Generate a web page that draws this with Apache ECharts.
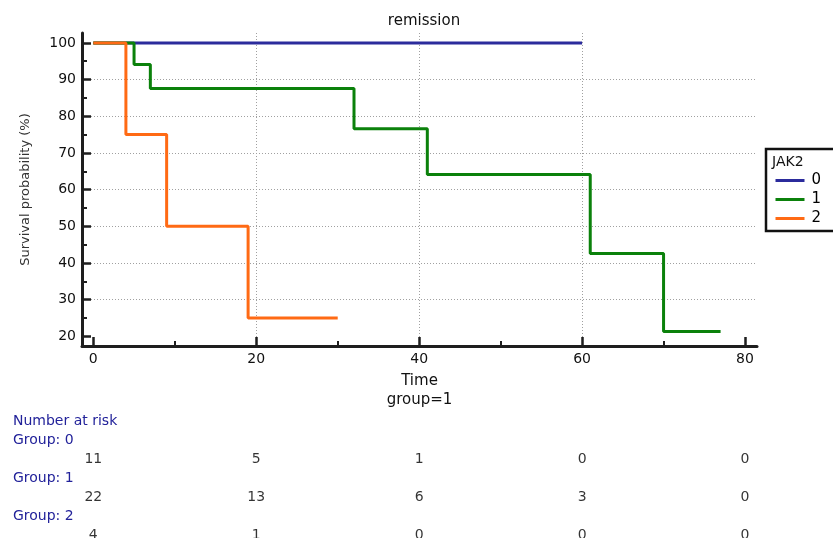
<!DOCTYPE html>
<html>
<head>
<meta charset="utf-8">
<script src="https://cdn.jsdelivr.net/npm/echarts@6/dist/echarts.min.js"></script>
<style>
  html, body { margin: 0; padding: 0; background: #fff; }
  #chart { width: 833px; height: 538px; }
</style>
</head>
<body>
<div id="chart"></div>
<script>
// Kaplan-Meier estimates for remission by JAK2 group
const group0Time = [0, 60];
const group0Surv = [100, 100];
const group1Time = [0, 5, 7, 32, 41, 61, 70, 77];
const group1Surv = [100, 94.1, 87.6, 76.6, 64.1, 42.6, 21.3, 21.3];
const group2Time = [0, 4, 9, 19, 30];
const group2Surv = [100, 75, 50, 25, 25];

const groupNames = ['0', '1', '2'];
const groupColors = ['#2b2b9c', '#0b810b', '#ff6a14'];

// Axis ticks
const xMajorTicks = [0, 20, 40, 60, 80];
const xMinorTicks = [10, 30, 50, 70];
const yMajorTicks = [20, 30, 40, 50, 60, 70, 80, 90, 100];
const yMinorTicks = [25, 35, 45, 55, 65, 75, 85, 95];

// Number at risk table
const riskTimes = [0, 20, 40, 60, 80];
const risk0 = [11, 5, 1, 0, 0];
const risk1 = [22, 13, 6, 3, 0];
const risk2 = [4, 1, 0, 0, 0];
const riskRows = ['Number at risk', 'Group: 0', 'r0', 'Group: 1', 'r1', 'Group: 2', 'r2'];

const FONT = '"DejaVu Sans", Verdana, sans-serif';

const X_MIN = -1.39, X_MAX = 81.47;
const Y_MIN = 17.35, Y_MAX = 102.7;

function zip(t, s) { return t.map((v, i) => [v, s[i]]); }

function kmSeries(i, t, s) {
  return {
    name: groupNames[i],
    type: 'line',
    step: 'end',
    xAxisIndex: 0,
    yAxisIndex: 0,
    symbol: 'none',
    data: zip(t, s),
    lineStyle: { color: groupColors[i], width: 3 },
    itemStyle: { color: groupColors[i] },
    emphasis: { disabled: true },
    z: 3 + i
  };
}

const riskData = [];
[risk0, risk1, risk2].forEach((row, r) => {
  row.forEach((v, k) => riskData.push([riskTimes[k], 'r' + r, v]));
});

const axisLineStyle = { color: '#1e1e1e', width: 3 };
const gridLine = { show: true, showMinLine: false, showMaxLine: false,
  lineStyle: { color: '#a0a0a0', type: [1, 2], width: 1 } };

const chart = echarts.init(document.getElementById('chart'));
chart.setOption({
  animation: false,
  backgroundColor: '#fff',
  title: {
    text: 'remission',
    left: 419, top: 9, textAlign: 'center',
    textStyle: { fontFamily: FONT, fontSize: 15, fontWeight: 'normal', color: '#111' }
  },
  graphic: [
    { type: 'rect', shape: { x: 766, y: 149, width: 90, height: 82 },
      style: { fill: '#fff', stroke: '#111', lineWidth: 2.5 }, z: 1 },
    { type: 'text', x: 772, y: 155, z: 2,
      style: { text: 'JAK2', fontFamily: FONT, fontSize: 14, fill: '#111' } }
  ],
  legend: {
    orient: 'vertical',
    left: 774, top: 173,
    padding: 0,
    itemWidth: 29, itemHeight: 15, itemGap: 4,
    data: groupNames,
    itemStyle: { opacity: 0 },
    lineStyle: { width: 3 },
    textStyle: { fontFamily: FONT, fontSize: 15, color: '#000', padding: [0, 0, 0, 2] },
    z: 5
  },
  grid: [
    { left: 82, right: 76, top: 33, bottom: 192, outerBoundsMode: 'none' },
    { left: 82, right: 76, top: 411.5, height: 133, outerBoundsMode: 'none' }
  ],
  xAxis: [
    {
      type: 'value', gridIndex: 0, min: X_MIN, max: X_MAX, splitNumber: 5,
      name: 'Time\ngroup=1', nameLocation: 'middle', nameGap: 26,
      nameTextStyle: { fontFamily: FONT, fontSize: 15, color: '#111', lineHeight: 19 },
      axisLine: { show: true, onZero: false, lineStyle: axisLineStyle },
      axisTick: { show: true, inside: true, length: 9, customValues: xMajorTicks,
        lineStyle: { color: '#1e1e1e', width: 2.5 } },
      axisLabel: { customValues: xMajorTicks, margin: 6, fontFamily: FONT, fontSize: 14, color: '#111' },
      splitLine: gridLine
    },
    {
      type: 'value', gridIndex: 0, min: X_MIN, max: X_MAX, position: 'bottom',
      axisLine: { show: false, onZero: false },
      axisTick: { show: true, inside: true, length: 5, customValues: xMinorTicks,
        lineStyle: { color: '#1e1e1e', width: 2 } },
      axisLabel: { show: false },
      splitLine: { show: false }
    },
    {
      type: 'value', gridIndex: 1, min: X_MIN, max: X_MAX, show: false
    }
  ],
  yAxis: [
    {
      type: 'value', gridIndex: 0, min: Y_MIN, max: Y_MAX, splitNumber: 8,
      name: 'Survival probability (%)', nameLocation: 'middle', nameGap: 50,
      nameTextStyle: { fontFamily: FONT, fontSize: 13, color: '#333' },
      axisLine: { show: true, onZero: false, lineStyle: axisLineStyle },
      axisTick: { show: true, inside: true, length: 9, customValues: yMajorTicks,
        lineStyle: { color: '#1e1e1e', width: 2.5 } },
      axisLabel: { customValues: yMajorTicks, margin: 6, fontFamily: FONT, fontSize: 14, color: '#111' },
      splitLine: gridLine
    },
    {
      type: 'value', gridIndex: 0, min: Y_MIN, max: Y_MAX, position: 'left',
      axisLine: { show: false, onZero: false },
      axisTick: { show: true, inside: true, length: 5, customValues: yMinorTicks,
        lineStyle: { color: '#1e1e1e', width: 2 } },
      axisLabel: { show: false },
      splitLine: { show: false }
    },
    {
      type: 'category', gridIndex: 1, data: riskRows, inverse: true,
      axisLine: { show: false }, axisTick: { show: false }, splitLine: { show: false },
      axisLabel: {
        interval: 0, align: 'left', margin: 69,
        fontFamily: FONT, fontSize: 14, color: '#22229a',
        formatter: v => (v.charAt(0) === 'r' ? '' : v)
      }
    }
  ],
  series: [
    kmSeries(0, group0Time, group0Surv),
    kmSeries(1, group1Time, group1Surv),
    kmSeries(2, group2Time, group2Surv),
    {
      type: 'scatter', xAxisIndex: 2, yAxisIndex: 2,
      symbolSize: 0, data: riskData, silent: true,
      label: {
        show: true, position: 'inside',
        formatter: p => String(p.value[2]),
        fontFamily: FONT, fontSize: 14, color: '#000'
      }
    }
  ]
});
</script>
</body>
</html>
